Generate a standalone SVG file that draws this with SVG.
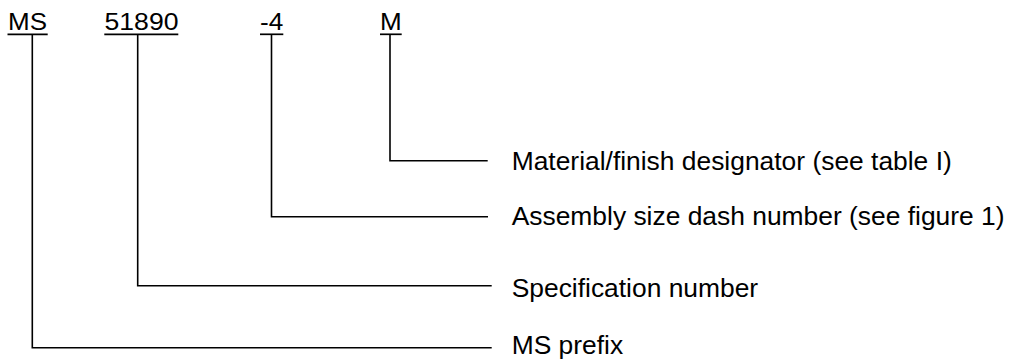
<svg xmlns="http://www.w3.org/2000/svg" width="1009" height="360" viewBox="0 0 1009 360">
<style>
  .top { font-family: "Liberation Sans", Arial, sans-serif; font-size: 24px; fill: #000; }
  .lbl { font-family: "Liberation Sans", Arial, sans-serif; font-size: 26.4px; fill: #000; }
  .ul { stroke: #000; stroke-width: 1.7; fill: none; }
  .conn { stroke: #000; stroke-width: 1.6; fill: none; }
</style>
<rect width="1009" height="360" fill="#fff"/>
<g id="part-ms">
  <text class="top" x="8" y="30" textLength="39" lengthAdjust="spacingAndGlyphs">MS</text>
  <line class="ul" x1="7.5" y1="34.3" x2="47.7" y2="34.3"/>
</g>
<g id="part-51890">
  <text class="top" x="104.5" y="30" textLength="74" lengthAdjust="spacingAndGlyphs">51890</text>
  <line class="ul" x1="104.3" y1="34.3" x2="178.3" y2="34.3"/>
</g>
<g id="part-dash4">
  <text class="top" x="260" y="30" textLength="23.3" lengthAdjust="spacingAndGlyphs">-4</text>
  <line class="ul" x1="260" y1="34.3" x2="283.3" y2="34.3"/>
</g>
<g id="part-m">
  <text class="top" x="380" y="30" textLength="21.7" lengthAdjust="spacingAndGlyphs">M</text>
  <line class="ul" x1="380" y1="34.3" x2="401.7" y2="34.3"/>
</g>
<g id="label-material">
  <text class="lbl" x="511.7" y="170">Material/finish designator (see table I)</text>
</g>
<g id="label-assembly">
  <text class="lbl" x="511.7" y="225">Assembly size dash number (see figure 1)</text>
</g>
<g id="label-spec">
  <text class="lbl" x="511.7" y="296.7">Specification number</text>
</g>
<g id="label-prefix">
  <text class="lbl" x="511.7" y="354.3">MS prefix</text>
</g>
<g id="connectors">
  <polyline class="conn" points="390,35 390,160.7 487.7,160.7"/>
  <polyline class="conn" points="271.5,35 271.5,216.7 488,216.7"/>
  <polyline class="conn" points="137.7,35 137.7,285.7 491.7,285.7"/>
  <polyline class="conn" points="32.3,35 32.3,347.7 491.7,347.7"/>
</g>
</svg>
